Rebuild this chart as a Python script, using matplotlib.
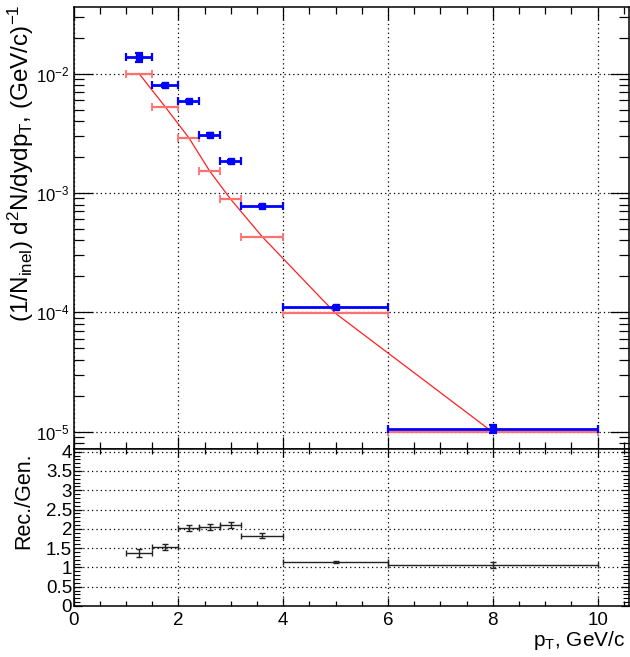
import matplotlib
matplotlib.use("Agg")
import matplotlib.pyplot as plt
from matplotlib.ticker import MultipleLocator, FixedLocator, LogLocator, NullFormatter, FixedFormatter
import numpy as np

plt.rcParams['font.family'] = ['Liberation Sans', 'DejaVu Sans']
plt.rcParams['mathtext.fontset'] = 'custom'
plt.rcParams['mathtext.rm'] = 'Liberation Sans'
plt.rcParams['mathtext.it'] = 'Liberation Sans'
plt.rcParams['mathtext.default'] = 'regular'

# ---- data ----
bin_lo = [1.0, 1.5, 2.0, 2.4, 2.8, 3.2, 4.0, 6.0]
bin_hi = [1.5, 2.0, 2.4, 2.8, 3.2, 4.0, 6.0, 10.0]
rec_vals = [0.0137, 0.0080, 0.00588, 0.00309, 0.00185, 0.000778, 1.11e-4, 1.055e-5]
rec_relerr = [0.085, 0.03, 0.025, 0.025, 0.03, 0.02, 0.02, 0.07]
gen_vals = [0.0100, 0.00526, 0.0029, 0.00152, 0.000885, 0.00043, 0.98e-4, 0.99e-5]
ratio_vals = [1.38, 1.52, 2.02, 2.04, 2.10, 1.82, 1.14, 1.06]
ratio_err = [0.11, 0.075, 0.08, 0.075, 0.08, 0.06, 0.03, 0.07]

x_ticks = [0, 2, 4, 6, 8, 10]
ratio_ticks = [0, 0.5, 1, 1.5, 2, 2.5, 3, 3.5, 4]
ratio_ticklabels = ["0", "0.5", "1", "1.5", "2", "2.5", "3", "3.5", "4"]

centers = [(a + b) / 2 for a, b in zip(bin_lo, bin_hi)]
halfw = [(b - a) / 2 for a, b in zip(bin_lo, bin_hi)]
rec_err = [v * e for v, e in zip(rec_vals, rec_relerr)]

W, H = 630, 657
fig = plt.figure(figsize=(W / 100, H / 100), dpi=100)

left = 73.6 / W
width = (628.5 - 73.6) / W
y_split = 449
ax1 = fig.add_axes([left, 1 - y_split / H, width, (y_split - 6.7) / H])
ax2 = fig.add_axes([left, 1 - 606 / H, width, (606 - y_split) / H])

grid_kw = dict(color='black', linestyle=(0, (1, 2.5)), linewidth=0.9)

# ---- top panel ----
ax1.set_xlim(0, 10.59)
ax1.set_yscale('log')
ax1.set_ylim(7.16e-6, 0.0364)

ax1.plot(centers, gen_vals, color='#ff2020', linewidth=0.9, zorder=2)
ax1.errorbar(centers, gen_vals, xerr=halfw, fmt='none', ecolor='#ff7070',
             elinewidth=1.6, capsize=3, capthick=1.3, zorder=3)
ax1.errorbar(centers, rec_vals, xerr=halfw, yerr=rec_err, fmt='s', color='#0000ff',
             markersize=4, ecolor='#0000ff', elinewidth=2, capsize=3, capthick=1.6, zorder=4)

ax1.xaxis.set_major_locator(FixedLocator(x_ticks))
ax1.xaxis.set_minor_locator(MultipleLocator(0.5))
ax1.xaxis.set_major_formatter(NullFormatter())
ax1.yaxis.set_major_locator(LogLocator(base=10, numticks=20))
ax1.yaxis.set_minor_locator(LogLocator(base=10, subs=np.arange(2, 10), numticks=20))
ax1.yaxis.set_minor_formatter(NullFormatter())
ax1.yaxis.set_major_formatter(matplotlib.ticker.FuncFormatter(
    lambda v, p: r'$10^{%d}$' % int(round(np.log10(v)))))
ax1.tick_params(axis='y', which='major', direction='in', length=14, width=0.9,
                left=True, right=True, labelsize=12, pad=3)
ax1.tick_params(axis='y', which='minor', direction='in', length=7, width=0.9,
                left=True, right=True)
ax1.tick_params(axis='x', which='major', direction='in', length=9, width=0.9,
                top=True, bottom=True)
ax1.tick_params(axis='x', which='minor', direction='in', length=5, width=0.9,
                top=True, bottom=True)
ax1.grid(True, which='major', **grid_kw)
for s in ax1.spines.values():
    s.set_linewidth(1.1)

# ---- bottom panel ----
ax2.set_xlim(0, 10.59)
ax2.set_ylim(0, 4.07)
ax2.errorbar(centers, ratio_vals, xerr=halfw, yerr=ratio_err, fmt='none',
             ecolor='#222222', elinewidth=1.0, capsize=2.5, capthick=1.0, zorder=3)
ax2.xaxis.set_major_locator(FixedLocator(x_ticks))
ax2.xaxis.set_minor_locator(MultipleLocator(0.5))
ax2.yaxis.set_major_locator(FixedLocator(ratio_ticks))
ax2.yaxis.set_major_formatter(FixedFormatter(ratio_ticklabels))
ax2.yaxis.set_minor_locator(MultipleLocator(0.1))
ax2.tick_params(axis='y', which='major', direction='in', length=6, width=0.9,
                left=True, right=True, labelsize=13.5, pad=1)
ax2.tick_params(axis='y', which='minor', direction='in', length=4.5, width=0.8,
                left=True, right=True)
ax2.tick_params(axis='x', which='major', direction='in', length=6, width=0.9,
                top=True, bottom=True, labelsize=13.5, pad=4)
ax2.tick_params(axis='x', which='minor', direction='in', length=3.5, width=0.9,
                top=True, bottom=True)
ax2.grid(True, which='major', **grid_kw)
for s in ax2.spines.values():
    s.set_linewidth(1.1)

# ---- titles ----
fig.text(21 / W, 1 - 4 / H,
         r'(1/N$_{\rm inel}$) d$^{2}$N/dydp$_{\rm T}$, (GeV/c)$^{-1}$',
         rotation=90, ha='center', va='top', fontsize=17.5)
fig.text(24 / W, 1 - 452 / H, 'Rec./Gen.', rotation=90, ha='center', va='top',
         fontsize=15.5)
fig.text(625 / W, 1 - 646 / H, r'p$_{\rm T}$, GeV/c', ha='right', va='baseline',
         fontsize=15)

fig.savefig('out.png', dpi=100)
